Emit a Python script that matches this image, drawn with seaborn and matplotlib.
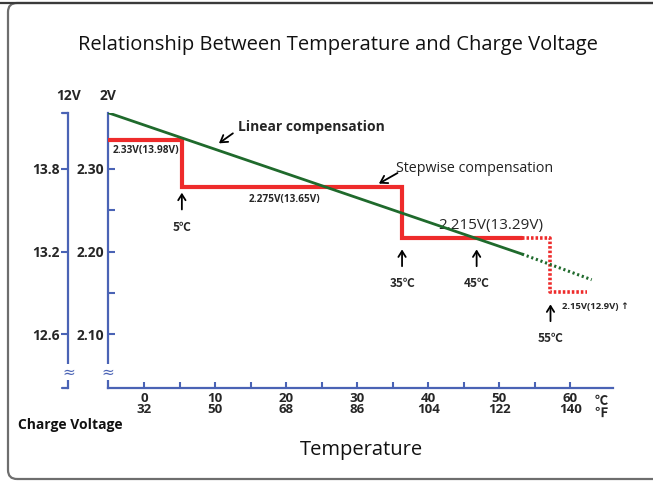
import matplotlib
matplotlib.use("Agg")
import matplotlib.pyplot as plt
import seaborn as sns
import pandas as pd
from matplotlib.patches import FancyBboxPatch
from matplotlib.lines import Line2D

# ---------------- data ----------------
linear_temp_solid = [-5.1, 53.2]
linear_volt_solid = [2.368, 2.197]
linear_temp_dotted = [53.2, 63.0]
linear_volt_dotted = [2.197, 2.166]

step_temp_solid = [-5.1, 5.3, 5.3, 36.3, 36.3, 53.2]
step_volt_solid = [2.335, 2.335, 2.278, 2.278, 2.216, 2.216]
step_temp_dotted = [53.2, 57.2, 57.2, 62.3]
step_volt_dotted = [2.216, 2.216, 2.151, 2.151]

celsius_ticks = [0, 10, 20, 30, 40, 50, 60]
fahrenheit_labels = ["32", "50", "68", "86", "104", "122", "140"]
celsius_minor = [5, 15, 25, 35, 45, 55]
cell_volt_ticks = [2.10, 2.20, 2.30]
cell_volt_labels = ["2.10", "2.20", "2.30"]
cell_volt_minor = [2.15, 2.25]
battery_volt_ticks = [12.6, 13.2, 13.8]
battery_volt_labels = ["12.6", "13.2", "13.8"]

step_mark_labels = ["5℃", "35℃", "45℃", "55℃"]
step_mark_temp = [5.3, 36.3, 46.8, 57.2]
step_mark_top = [2.2746, 2.206, 2.206, 2.1395]

# ---------------- style ----------------
sns.set_theme(style="white")
plt.rcParams["font.family"] = ["Open Sans", "DejaVu Sans"]

BLUE = "#4a63b5"
RED = "#ee2b2b"
GREEN = "#1f6a2c"
SEC_X = -39.7 / 505

fig = plt.figure(figsize=(6.53, 4.83), dpi=100)
ax = fig.add_axes([108 / 653, 1 - 387.7 / 483, 505 / 653, 275 / 483])
ax.set_facecolor("white")

df_lin_s = pd.DataFrame({"t": linear_temp_solid, "v": linear_volt_solid})
df_lin_d = pd.DataFrame({"t": linear_temp_dotted, "v": linear_volt_dotted})
df_stp_s = pd.DataFrame({"t": step_temp_solid, "v": step_volt_solid})
df_stp_d = pd.DataFrame({"t": step_temp_dotted, "v": step_volt_dotted})

sns.lineplot(data=df_stp_s, x="t", y="v", ax=ax, color=RED, linewidth=3.0,
             estimator=None, sort=False, solid_joinstyle="miter", zorder=3)
sns.lineplot(data=df_stp_d, x="t", y="v", ax=ax, color=RED, linewidth=2.6,
             estimator=None, sort=False, linestyle=(0, (0.7, 0.55)),
             dash_capstyle="butt", zorder=3)
sns.lineplot(data=df_lin_s, x="t", y="v", ax=ax, color=GREEN, linewidth=2.0,
             estimator=None, sort=False, zorder=4)
sns.lineplot(data=df_lin_d, x="t", y="v", ax=ax, color=GREEN, linewidth=2.2,
             estimator=None, sort=False, linestyle=(0, (0.7, 0.9)),
             dash_capstyle="butt", zorder=4)

ax.set_xlim(-5.1, 66.0)
ax.set_ylim(2.0354, 2.368)
ax.set_xlabel("")
ax.set_ylabel("")

for s in ["top", "right"]:
    ax.spines[s].set_visible(False)
for s in ["left", "bottom"]:
    ax.spines[s].set_color(BLUE)
    ax.spines[s].set_linewidth(1.6)

ax.set_xticks(celsius_ticks)
ax.set_xticklabels([f"{c}\n{f}" for c, f in zip(celsius_ticks, fahrenheit_labels)],
                   fontsize=9.5, fontweight="bold", linespacing=0.78)
ax.set_xticks(celsius_minor, minor=True)
ax.tick_params(axis="x", which="both", direction="in", length=4, width=1.5,
               color=BLUE, pad=3, bottom=True)
ax.set_yticks(cell_volt_ticks)
ax.set_yticklabels(cell_volt_labels, fontsize=10, fontweight="bold")
ax.set_yticks(cell_volt_minor, minor=True)
ax.tick_params(axis="y", which="both", direction="in", length=5, width=1.5,
               color=BLUE, pad=3, left=True)

# 12V secondary axis
sec = ax.secondary_yaxis(SEC_X, functions=(lambda v: v * 6, lambda v: v / 6))
sec.set_yticks(battery_volt_ticks)
sec.set_yticklabels(battery_volt_labels, fontsize=10, fontweight="bold")
sec.tick_params(axis="y", which="major", direction="out", length=5, width=1.5,
                color=BLUE, pad=1)
sec.tick_params(axis="y", which="minor", length=0)
sec.spines["left"].set_color(BLUE)
sec.spines["left"].set_linewidth(1.6)

# hooks of 12V axis
for yy in [1.0, 0.0]:
    ax.add_line(Line2D([SEC_X - 6 / 505, SEC_X], [yy, yy],
                       transform=ax.transAxes, color=BLUE, lw=1.6, clip_on=False))

# break marks
for xx in [0.0, SEC_X]:
    ax.text(xx, 2.0545, "≈", transform=ax.get_yaxis_transform(), ha="center",
            va="center", color=BLUE, fontsize=11, family="DejaVu Sans",
            bbox=dict(boxstyle="square,pad=0.05", fc="white", ec="none"),
            clip_on=False, zorder=5)

# axis top labels
ax.text(0.0, 1.035, "2V", transform=ax.transAxes, ha="center", va="bottom",
        fontsize=10, fontweight="bold")
ax.text(SEC_X, 1.035, "12V", transform=ax.transAxes, ha="center",
        va="bottom", fontsize=10, fontweight="bold")

# unit labels
fig.text(601 / 653, 1 - 407 / 483, "℃\n℉", ha="center", va="center",
         fontsize=9.5, fontweight="bold", linespacing=0.8,
         family=["Noto Sans CJK SC", "DejaVu Sans"])

# annotations
ax.text(-4.4, 2.3225, "2.33V(13.98V)", fontsize=7.3, fontweight="bold",
        ha="left", va="center")
ax.text(19.8, 2.2625, "2.275V(13.65V)", fontsize=7.2, fontweight="bold",
        ha="center", va="center")
ax.text(48.8, 2.2315, "2.215V(13.29V)", fontsize=11, ha="center",
        va="center", zorder=2)
ax.text(58.8, 2.1335, "2.15V(12.9V) ↑", fontsize=6.8, fontweight="bold",
        ha="left", va="center", family=["Open Sans", "DejaVu Sans"])

for lab, tx, ty in zip(step_mark_labels, step_mark_temp, step_mark_top):
    ax.annotate("", xy=(tx, ty), xytext=(tx, ty - 0.027),
                arrowprops=dict(arrowstyle="->,head_length=0.35,head_width=0.22",
                                color="black", lw=1.3))
    ax.text(tx, ty - 0.037, lab, ha="center", va="top", fontsize=8.5,
            fontweight="bold", family=["Noto Sans CJK SC", "DejaVu Sans"])

ax.annotate("", xy=(10.2, 2.329), xytext=(12.8, 2.345),
            arrowprops=dict(arrowstyle="->,head_length=0.4,head_width=0.25",
                            color="black", lw=1.3))
ax.text(13.2, 2.351, "Linear compensation", fontsize=10, fontweight="bold",
        ha="left", va="center")
ax.annotate("", xy=(32.7, 2.2806), xytext=(36.0, 2.2967),
            arrowprops=dict(arrowstyle="->,head_length=0.4,head_width=0.25",
                            color="black", lw=1.3))
ax.text(35.5, 2.3008, "Stepwise compensation", fontsize=10.3, ha="left",
        va="center", color="#222222")

# figure texts
fig.text(337.5 / 653, 1 - 45 / 483, "Relationship Between Temperature and Charge Voltage",
         ha="center", va="center", fontsize=14.5, color="#111111")
fig.text(361 / 653, 1 - 450 / 483, "Temperature", ha="center", va="center",
         fontsize=14.5, color="#111111")
fig.text(18 / 653, 1 - 425 / 483, "Charge Voltage", ha="left", va="center",
         fontsize=10, fontweight="bold", color="#111111")

# rounded frame
frame = FancyBboxPatch((8, 4), 720, 476, boxstyle="round,pad=0,rounding_size=9",
                       transform=None, fc="none", ec="#6e6e6e", lw=1.6)
fig.patches.append(frame)
fig.add_artist(Line2D([0, 1], [1 - 2.5 / 483, 1 - 2.5 / 483], transform=fig.transFigure,
                      color="#3a3a3a", lw=1.6))

fig.savefig("out.png", dpi=100)
